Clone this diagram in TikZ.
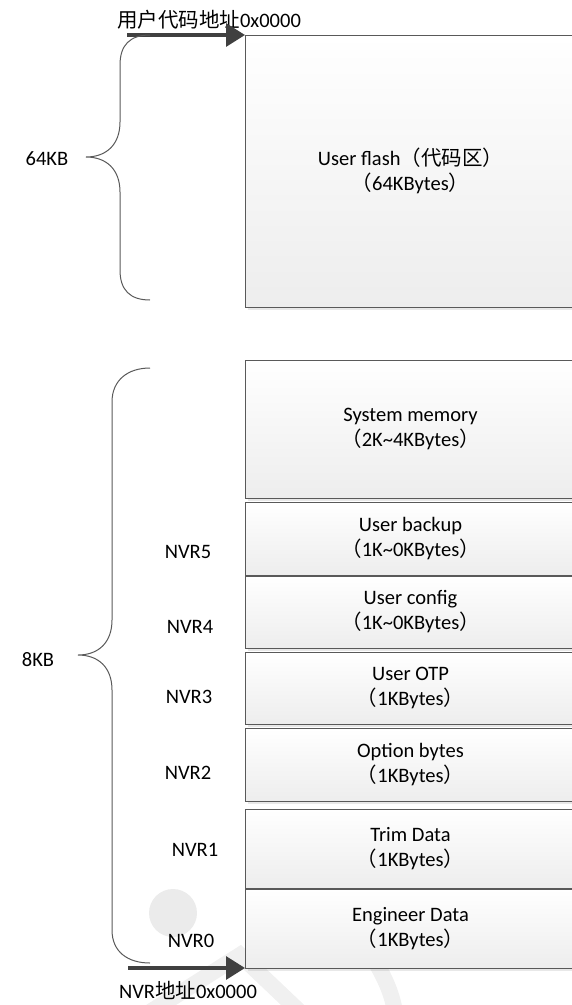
\documentclass[tikz,border=0pt]{standalone}
\usepackage{fontspec}
\setmainfont{Carlito}
\newfontfamily\cjk{Noto Sans CJK SC}
\usepackage{tikz}
\usetikzlibrary{arrows.meta,positioning,shadows}

\begin{document}
\begin{tikzpicture}[x=1pt,y=-1pt,
  every node/.style={font=\fontsize{20.5}{25}\selectfont},
  mem/.style={draw=black!65, line width=1pt, top color=white, bottom color=black!7,
    drop shadow={shadow xshift=3pt, shadow yshift=-3pt, opacity=0.18},
    anchor=north west, minimum width=331pt, align=center, outer sep=0pt},
  addr/.style={draw=black!75, line width=3.2pt, -{Triangle[length=19pt,width=23pt]}},
  brace/.style={draw=black!65, line width=1pt},
  wm/.style={black!6, line width=16pt}
]
  \useasboundingbox (0,0) rectangle (571,1005);
  \fill[black!8] (173,913) circle (24);
  \draw[wm] (150,1012) -- (240,955) -- (300,1012);
  \draw[wm] (335,905) .. controls (370,950) and (390,980) .. (395,1012);
  \node[mem, minimum height=272pt] (flash) at (245,35) {User flash{\cjk（代码区）}\\{\cjk（}64KBytes{\cjk）}};
  \node[mem, minimum height=138pt] (sysmem) at (245,360) {System memory\\{\cjk（}2K\textasciitilde 4KBytes{\cjk）}};
  \node[mem, minimum height=73pt] (backup) at (245,502) {User backup\\{\cjk（}1K\textasciitilde 0KBytes{\cjk）}};
  \node[mem, minimum height=72pt] (config) at (245,576) {User config\\{\cjk（}1K\textasciitilde 0KBytes{\cjk）}};
  \node[mem, minimum height=72pt] (otp) at (245,652) {User OTP\\{\cjk（}1KBytes{\cjk）}};
  \node[mem, minimum height=73pt] (option) at (245,728) {Option bytes\\{\cjk（}1KBytes{\cjk）}};
  \node[mem, minimum height=79pt] (trim) at (245,809) {Trim Data\\{\cjk（}1KBytes{\cjk）}};
  \node[mem, minimum height=79pt] (eng) at (245,889) {Engineer Data\\{\cjk（}1KBytes{\cjk）}};
  \node (uaddr) at (209,20) {{\cjk 用户代码地址}0x0000};
  \node (naddr) at (188,990) {NVR{\cjk 地址}0x0000};
  \coordinate (utop) at (127,35);
  \coordinate (nbot) at (128,968);
  \draw[addr] (utop) -- (flash.north west);
  \draw[addr] (nbot) -- (eng.south west);
  \draw[brace] (150,35) .. controls (130,35) and (120,45) .. (120,65) -- (120,122)
    .. controls (120,145) and (106,157) .. (86,157) .. controls (106,157) and (120,169) .. (120,192)
    -- (120,270) .. controls (120,290) and (130,300) .. (150,300);
  \draw[brace] (150,368) .. controls (128,368) and (112,380) .. (112,402) -- (112,620)
    .. controls (112,643) and (98,655) .. (78,655) .. controls (98,655) and (112,667) .. (112,690)
    -- (112,930) .. controls (112,952) and (128,963) .. (150,963);
  \node (kb64) at (47,159) {64KB};
  \node (kb8) at (38,660) {8KB};
  \node (nvr5) at (188,552) {NVR5};
  \node (nvr4) at (190,627) {NVR4};
  \node (nvr3) at (189,697) {NVR3};
  \node (nvr2) at (188,773) {NVR2};
  \node (nvr1) at (195,850) {NVR1};
  \node (nvr0) at (191,941) {NVR0};
\end{tikzpicture}
\end{document}
